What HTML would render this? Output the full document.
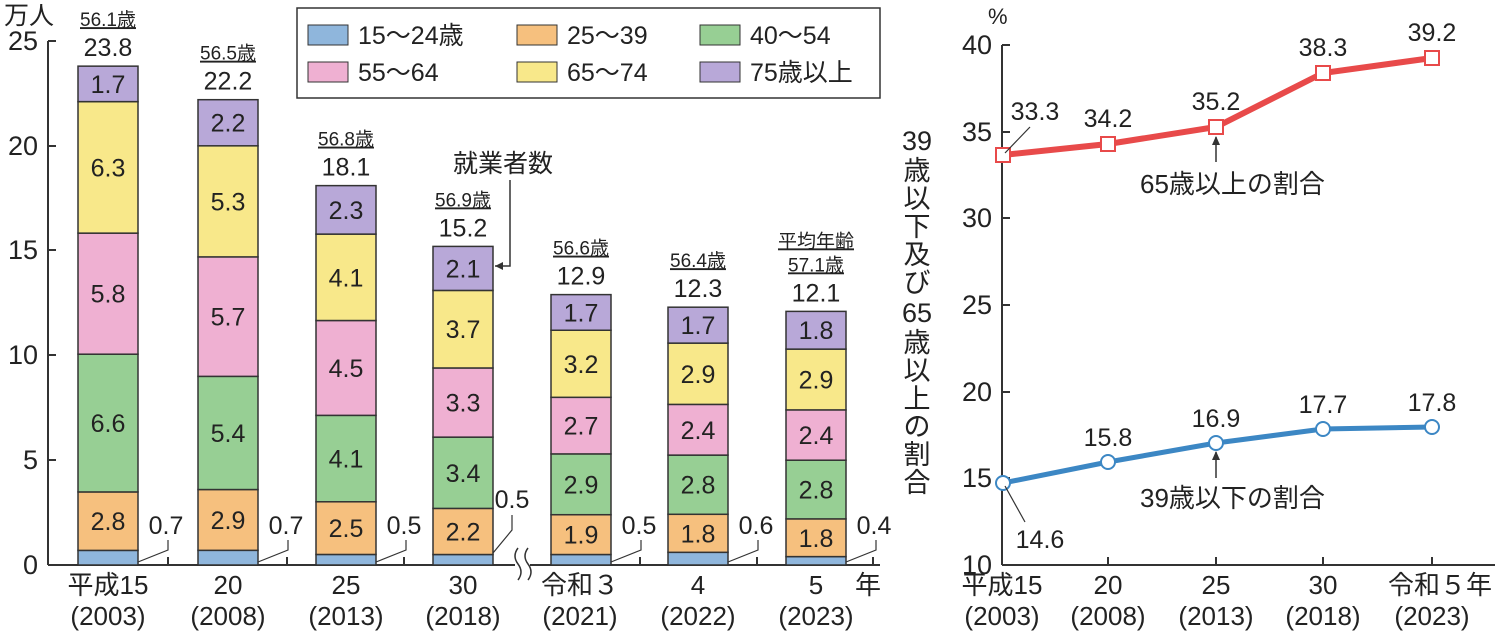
<!DOCTYPE html>
<html><head><meta charset="utf-8"><style>
html,body{margin:0;padding:0;background:#fff;}
svg{display:block;font-family:"Liberation Sans","Noto Sans CJK JP",sans-serif;}
</style></head><body>
<svg width="1503" height="635" viewBox="0 0 1503 635" xmlns="http://www.w3.org/2000/svg">
<g font-size="24" fill="#222">
<line x1="48" y1="41" x2="48" y2="565" stroke="#333" stroke-width="2"/>
<line x1="48" y1="565" x2="515" y2="565" stroke="#333" stroke-width="2"/>
<line x1="530" y1="565" x2="880" y2="565" stroke="#333" stroke-width="2"/>
<g stroke="#333" stroke-width="2">
<line x1="48" y1="41" x2="56" y2="41"/><line x1="48" y1="146" x2="56" y2="146"/><line x1="48" y1="250" x2="56" y2="250"/><line x1="48" y1="355" x2="56" y2="355"/><line x1="48" y1="460" x2="56" y2="460"/>
<line x1="168" y1="565" x2="168" y2="557"/><line x1="287" y1="565" x2="287" y2="557"/><line x1="404" y1="565" x2="404" y2="557"/><line x1="640" y1="565" x2="640" y2="557"/><line x1="757" y1="565" x2="757" y2="557"/><line x1="873" y1="565" x2="873" y2="557"/>
</g>
<path d="M518 548 q-6 8 0 16 q6 8 0 16 M528 548 q-6 8 0 16 q6 8 0 16" stroke="#333" fill="none" stroke-width="1.5"/>
<g text-anchor="end" font-size="27"><text x="38" y="50">25</text><text x="38" y="155">20</text><text x="38" y="259">15</text><text x="38" y="364">10</text><text x="38" y="469">5</text><text x="38" y="574">0</text></g>
<text x="4" y="24" font-size="25">万人</text>
<g stroke="#333" stroke-width="1.5" id="bars"></g>
<rect x="297" y="8" width="583" height="90" fill="#fff" stroke="#333" stroke-width="1.5"/>
<g stroke="#333" stroke-width="1">
<rect x="308" y="25" width="40" height="20" fill="#8fb6dc"/><rect x="517" y="25" width="40" height="20" fill="#f6c07e"/><rect x="700" y="25" width="40" height="20" fill="#97cf94"/>
<rect x="308" y="62" width="40" height="20" fill="#efb0d2"/><rect x="517" y="62" width="40" height="20" fill="#f8e88a"/><rect x="700" y="62" width="40" height="20" fill="#b8a8d8"/>
</g>
<g font-size="25">
<text x="358" y="44">15～24歳</text><text x="567" y="44">25～39</text><text x="750" y="44">40～54</text>
<text x="358" y="81">55～64</text><text x="567" y="81">65～74</text><text x="750" y="81">75歳以上</text>
</g>
<g text-anchor="middle" font-size="26">
<text x="108" y="594">平成15</text><text x="108" y="625">(2003)</text>
<text x="228" y="594">20</text><text x="228" y="625">(2008)</text>
<text x="346" y="594">25</text><text x="346" y="625">(2013)</text>
<text x="463" y="594">30</text><text x="463" y="625">(2018)</text>
<text x="580" y="594">令和３</text><text x="580" y="625">(2021)</text>
<text x="698" y="594">4</text><text x="698" y="625">(2022)</text>
<text x="816" y="594">5</text><text x="816" y="625">(2023)</text>
<text x="868" y="594">年</text>
</g>
<text x="453" y="172" font-size="25">就業者数</text>
<path d="M510 180 L510 266 L495 266" stroke="#333" fill="none" stroke-width="1.5"/>
<path d="M495 266 l8 -4 v8 z" fill="#333"/>

<line x1="1002" y1="45" x2="1002" y2="565" stroke="#333" stroke-width="2"/>
<line x1="1002" y1="565" x2="1495" y2="565" stroke="#333" stroke-width="2"/>
<g stroke="#333" stroke-width="2">
<line x1="1002" y1="45" x2="1010" y2="45"/><line x1="1002" y1="132" x2="1010" y2="132"/><line x1="1002" y1="218" x2="1010" y2="218"/><line x1="1002" y1="305" x2="1010" y2="305"/><line x1="1002" y1="392" x2="1010" y2="392"/><line x1="1002" y1="478" x2="1010" y2="478"/>
<line x1="1108" y1="565" x2="1108" y2="557"/><line x1="1216" y1="565" x2="1216" y2="557"/><line x1="1323" y1="565" x2="1323" y2="557"/><line x1="1432" y1="565" x2="1432" y2="557"/>
</g>
<g text-anchor="end" font-size="27"><text x="992" y="54">40</text><text x="992" y="141">35</text><text x="992" y="227">30</text><text x="992" y="314">25</text><text x="992" y="401">20</text><text x="992" y="487">15</text><text x="992" y="574">10</text></g>
<text x="988" y="24" font-size="22">%</text>
<g text-anchor="middle" font-size="27">
<text x="917" y="150">39</text>
<text x="917" y="180">歳</text><text x="917" y="208">以</text><text x="917" y="236">下</text><text x="917" y="264">及</text><text x="917" y="292">び</text>
<text x="917" y="322">65</text>
<text x="917" y="352">歳</text><text x="917" y="380">以</text><text x="917" y="408">上</text><text x="917" y="436">の</text><text x="917" y="464">割</text><text x="917" y="492">合</text>
</g>
<g text-anchor="middle" font-size="26">
<text x="1002" y="594">平成15</text><text x="1002" y="625">(2003)</text>
<text x="1108" y="594">20</text><text x="1108" y="625">(2008)</text>
<text x="1216" y="594">25</text><text x="1216" y="625">(2013)</text>
<text x="1323" y="594">30</text><text x="1323" y="625">(2018)</text>
<text x="1440" y="594">令和５年</text><text x="1432" y="625">(2023)</text>
</g>
<polyline points="1003,155 1108,144 1216,127 1323,73 1432,58" fill="none" stroke="#e84a4a" stroke-width="6"/>
<g fill="#fff" stroke="#e84a4a" stroke-width="2">
<rect x="996" y="148" width="14" height="14"/><rect x="1101" y="137" width="14" height="14"/><rect x="1209" y="120" width="14" height="14"/><rect x="1316" y="66" width="14" height="14"/><rect x="1425" y="51" width="14" height="14"/>
</g>
<polyline points="1003,483 1108,462 1216,443 1323,429 1432,427" fill="none" stroke="#3c87c4" stroke-width="5"/>
<g fill="#fff" stroke="#3c87c4" stroke-width="2">
<circle cx="1003" cy="483" r="7"/><circle cx="1108" cy="462" r="7"/><circle cx="1216" cy="443" r="7"/><circle cx="1323" cy="429" r="7"/><circle cx="1432" cy="427" r="7"/>
</g>
<g text-anchor="middle" font-size="25">
<text x="1035" y="120">33.3</text><text x="1108" y="127">34.2</text><text x="1216" y="110">35.2</text><text x="1323" y="56">38.3</text><text x="1432" y="41">39.2</text>
<text x="1108" y="446">15.8</text><text x="1216" y="427">16.9</text><text x="1323" y="413">17.7</text><text x="1432" y="411">17.8</text>
<text x="1040" y="548">14.6</text>
</g>
<line x1="1005" y1="153" x2="1030" y2="127" stroke="#333" stroke-width="1.2"/>
<line x1="1005" y1="486" x2="1025" y2="522" stroke="#333" stroke-width="1.2"/>
<line x1="1216" y1="137" x2="1216" y2="162" stroke="#333" stroke-width="1.5"/><path d="M1216 136 l-4 9 h8 z" fill="#333"/>
<line x1="1216" y1="452" x2="1216" y2="478" stroke="#333" stroke-width="1.5"/><path d="M1216 451 l-4 9 h8 z" fill="#333"/>
<text x="1140" y="193" font-size="26">65歳以上の割合</text>
<text x="1140" y="507" font-size="26">39歳以下の割合</text>
</g>
<script>
var data=[[78,[0.7,2.8,6.6,5.8,6.3,1.7],"23.8","56.1歳"],[198,[0.7,2.9,5.4,5.7,5.3,2.2],"22.2","56.5歳"],[316,[0.5,2.5,4.1,4.5,4.1,2.3],"18.1","56.8歳"],[433,[0.5,2.2,3.4,3.3,3.7,2.1],"15.2","56.9歳"],[551,[0.5,1.9,2.9,2.7,3.2,1.7],"12.9","56.6歳"],[668,[0.6,1.8,2.8,2.4,2.9,1.7],"12.3","56.4歳"],[786,[0.4,1.8,2.8,2.4,2.9,1.8],"12.1","57.1歳"]];
var tot=[23.8,22.2,18.1,15.2,12.9,12.3,12.1];
var cols=["#8fb6dc","#f6c07e","#97cf94","#efb0d2","#f8e88a","#b8a8d8"];
var ns="http://www.w3.org/2000/svg",g=document.getElementById("bars");
function el(n,a,t){var e=document.createElementNS(ns,n);for(var k in a)e.setAttribute(k,a[k]);if(t)e.textContent=t;g.appendChild(e);return e;}
data.forEach(function(d,i){var x=d[0],v=d[1],s=0,sc=tot[i]/v.reduce(function(a,b){return a+b},0);
v.forEach(function(val,j){var y0=565-s*sc*20.96;s+=val;var y1=565-s*sc*20.96;
el("rect",{x:x,y:y1,width:60,height:y0-y1,fill:cols[j]});
if(j>0)el("text",{x:x+30,y:(y0+y1)/2+9,"text-anchor":"middle","font-size":"25",fill:"#222",stroke:"none"},val.toFixed(1));});
var top=565-tot[i]*20.96;
el("text",{x:x+30,y:top-10,"text-anchor":"middle","font-size":"25",fill:"#222",stroke:"none"},d[2]);
var ay=top-40;
el("text",{x:x+30,y:ay,"text-anchor":"middle","font-size":"19",fill:"#222",stroke:"none","text-decoration":"underline"},d[3]);
if(i==6)el("text",{x:x+30,y:ay-24,"text-anchor":"middle","font-size":"19",fill:"#222",stroke:"none","text-decoration":"underline"},"平均年齢");
if(i==3){
el("polyline",{points:"493,553 512,530 512,515",fill:"none","stroke-width":"1.2"});
el("text",{x:512,y:508,"text-anchor":"middle","font-size":"25",fill:"#222",stroke:"none"},"0.5");
}else{
var lx=x+90,ly=540;
el("polyline",{points:(x+60)+",562 "+lx+",550 "+lx+","+ly,fill:"none","stroke-width":"1.2"});
el("text",{x:lx-2,y:ly-6,"text-anchor":"middle","font-size":"25",fill:"#222",stroke:"none"},v[0].toFixed(1));}
});
</script>
</svg>
</body></html>
